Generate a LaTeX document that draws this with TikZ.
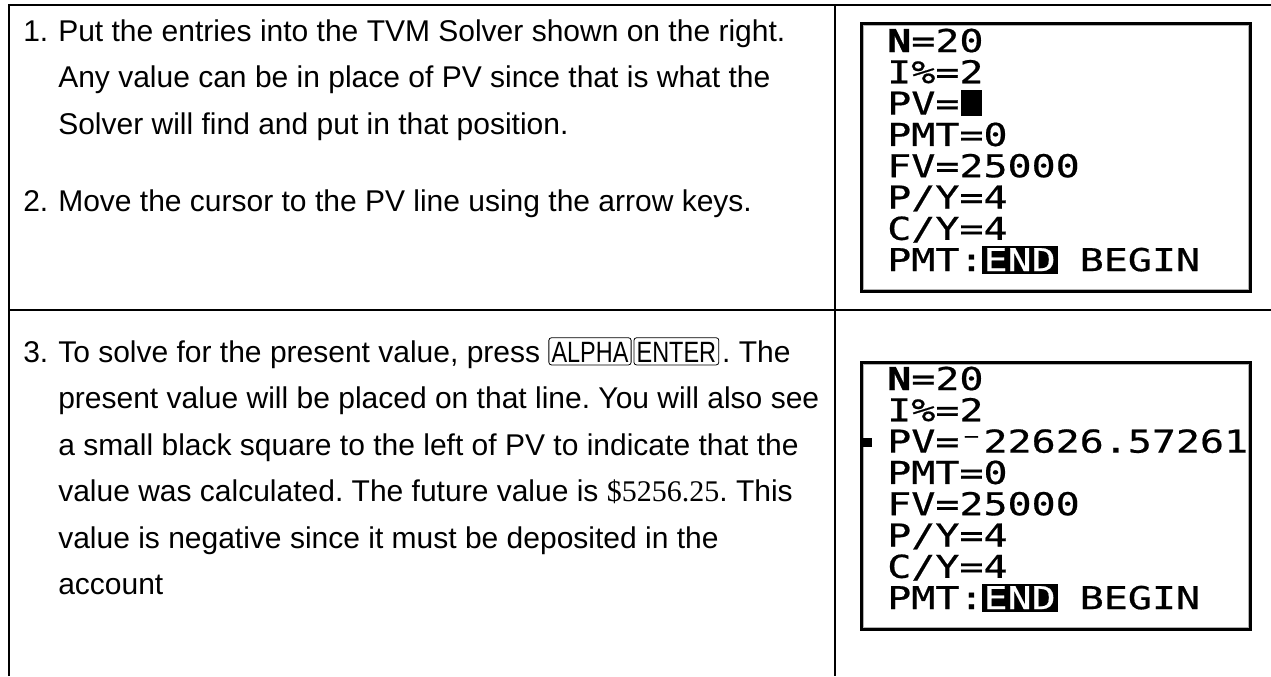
\documentclass[tikz,border=0pt]{standalone}
\usepackage{fontspec}
\setmainfont{Liberation Sans}
\newfontfamily\serifnum{Liberation Serif}
\newfontfamily\calcfont[FakeStretch=1.27, FakeBold=0.6]{DejaVu Sans Mono}
\newfontfamily\keyfont[FakeStretch=0.8]{Liberation Sans}

\begin{document}
\begin{tikzpicture}[x=0.75pt,y=-0.75pt]
\useasboundingbox (0,0) rectangle (1271,676);
\tikzset{
  rule/.style={line width=1.5pt},
  body/.style={anchor=base west, inner sep=0pt, font=\frenchspacing\fontsize{22.5}{26}\selectfont},
  calc/.style={anchor=base west, inner sep=0pt, font=\calcfont\fontsize{23.6}{26}\selectfont},
  screen/.style={draw=black, line width=2.8pt, minimum width=291pt, minimum height=200pt, inner sep=0pt},
  keycap/.style={draw, line width=0.6pt, rounded corners=2pt, anchor=base west,
    font=\keyfont\fontsize{22}{24}\selectfont, text height=16pt, text depth=0pt,
    inner xsep=2pt, inner ysep=2.2pt},
}

% table rules
\draw[rule] (9,676) -- (9,5) -- (1271,5);
\draw[rule] (835,5) -- (835,676);
\draw[rule] (9,310) -- (1271,310);

% first row: steps 1 and 2
\node[body] (n1) at (23,41) {1.};
\node[body] (l1a) at (58,41) {Put the entries into the TVM Solver shown on the right.};
\node[body] (l1b) at (58,87.5) {Any value can be in place of PV since that is what the};
\node[body] (l1c) at (58,134) {Solver will find and put in that position.};
\node[body] (n2) at (23,211) {2.};
\node[body] (l2a) at (58,211) {Move the cursor to the PV line using the arrow keys.};

% second row: step 3
\node[body] (n3) at (23,362) {3.};
\node[body] (l3a) at (58,362) {To solve for the present value, press};
\node[keycap] (alpha) at ([xshift=6pt]l3a.base east) {ALPHA};
\node[keycap] (enter) at ([xshift=1.5pt]alpha.base east) {ENTER};
\node[body] (l3b) at ([xshift=2pt]enter.base east) {. The};
\node[body] (l3c) at (58,408.5) {present value will be placed on that line. You will also see};
\node[body] (l3d) at (58,455) {a small black square to the left of PV to indicate that the};
\node[body] (l3e) at (58,501.5) {value was calculated. The future value is {\serifnum\$5256.25}. This};
\node[body] (l3f) at (58,548) {value is negative since it must be deposited in the};
\node[body] (l3g) at (58,594.5) {account};

% calculator screen 1
\node[screen] (scr1) at (1056,157.5) {};
\draw[gray!60, line width=0.6pt] ([shift={(3.5,3.5)}]scr1.north west) rectangle ([shift={(-3.5,-3.5)}]scr1.south east);
\node[calc] (a0) at (887,52) {{\bfseries N}=20};
\node[calc] (a1) at (887,83.3) {I\%=2};
\node[calc] (a2) at (887,114.6) {PV=};
\fill (961,90) rectangle (982,116);
\node[calc] (a3) at (887,145.9) {PMT=0};
\node[calc] (a4) at (887,177.2) {FV=25000};
\node[calc] (a5) at (887,208.5) {P/Y=4};
\node[calc] (a6) at (887,239.8) {C/Y=4};
\fill (982,246) rectangle (1058,274);
\node[calc] (a7) at (887,271.1) {PMT:\textcolor{white}{END} BEGIN};

% calculator screen 2
\node[screen] (scr2) at (1056,496) {};
\draw[gray!60, line width=0.6pt] ([shift={(3.5,3.5)}]scr2.north west) rectangle ([shift={(-3.5,-3.5)}]scr2.south east);
\node[calc] (b0) at (887,390) {{\bfseries N}=20};
\node[calc] (b1) at (887,421.3) {I\%=2};
\fill (863,438) rectangle (872,447);
\node[calc] (b2) at (887,452.6) {PV=\char"207B 22626.57261};
\node[calc] (b3) at (887,483.9) {PMT=0};
\node[calc] (b4) at (887,515.2) {FV=25000};
\node[calc] (b5) at (887,546.5) {P/Y=4};
\node[calc] (b6) at (887,577.8) {C/Y=4};
\fill (982,584) rectangle (1058,612);
\node[calc] (b7) at (887,609.1) {PMT:\textcolor{white}{END} BEGIN};
\end{tikzpicture}
\end{document}
